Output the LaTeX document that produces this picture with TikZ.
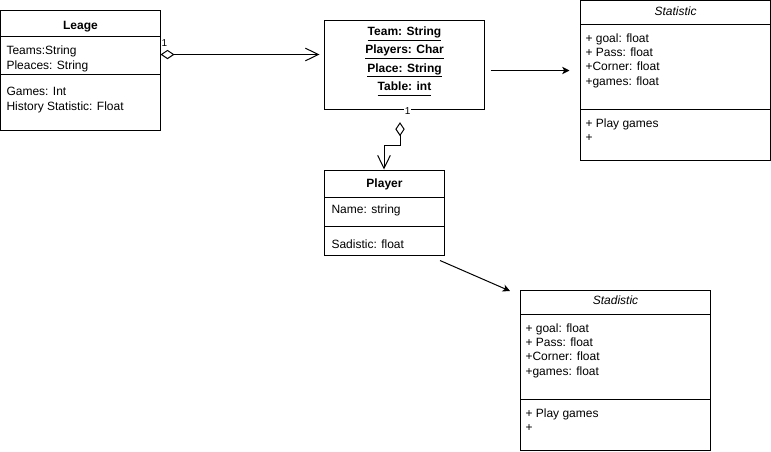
\documentclass[tikz,border=0pt]{standalone}
\usepackage{fontspec}
\setmainfont{Liberation Sans}
\usetikzlibrary{arrows.meta,fit}

\newcommand\umlfont{\fontsize{9}{10.8}\selectfont}
\newcommand\ulattr[1]{\underline{#1\vphantom{g}}}

\begin{document}
\begin{tikzpicture}[x=0.75pt, y=-0.75pt, line width=0.75pt, font=\umlfont,
  classbox/.style={draw, rectangle, inner sep=0pt, outer sep=0pt},
  title/.style={anchor=base, inner sep=0pt},
  members/.style={anchor=north west, align=left, inner sep=0pt},
  mult/.style={fill=white, inner sep=0.6pt, font=\fontsize{7.5}{9}\selectfont},
  aggr/.style={{Diamond[open,length=10.5pt,width=7pt]}-{Straight Barb[length=9.75pt,width=9.5pt]}},
  assoc/.style={-{Stealth[length=5.5pt,width=5.5pt,inset=1.5pt]}}]

\useasboundingbox (0,0) rectangle (771,451);

\node[classbox, fit={(0.5,10.5) (160.5,130.5)}] (leage) {};
\draw (leage.west |- 0,36.5) -- (leage.east |- 0,36.5);
\draw (leage.west |- 0,74) -- (leage.east |- 0,74);
\node[title, font=\umlfont\bfseries] (leagetitle) at (80.5,29.3) {Leage};
\node[members] (leageattr) at (6,45.6) {Teams:String\\Pleaces: String};
\node[members] (leageops) at (6,87) {Games: Int\\History Statistic: Float};

\node[classbox, fit={(324.5,20.5) (484.5,109.5)}] (team) {};
\node[anchor=north, align=center, inner sep=0pt, font=\fontsize{9}{13.8}\selectfont\bfseries] (teamattr) at (404.5,26.2)
  {\ulattr{Team: String}\\\ulattr{Players: Char}\\\ulattr{Place: String}\\\ulattr{Table: int}};

\node[classbox, fit={(580.5,0.5) (770.5,160.5)}] (statistic) {};
\draw (statistic.west |- 0,24.5) -- (statistic.east |- 0,24.5);
\draw (statistic.west |- 0,109) -- (statistic.east |- 0,109);
\node[title, font=\umlfont\itshape] (statistictitle) at (675.5,15.2) {Statistic};
\node[members] (statisticattr) at (585,32.8) {+ goal: float\\+ Pass: float\\+Corner: float\\+games: float};
\node[members] (statisticops) at (585,117.8) {+ Play games\\+};

\node[classbox, fit={(324.5,170.5) (444.5,255.5)}] (player) {};
\draw (player.west |- 0,197.5) -- (player.east |- 0,197.5);
\draw (player.west |- 0,226.5) -- (player.east |- 0,226.5);
\node[title, font=\umlfont\bfseries] (playertitle) at (384.5,187.3) {Player};
\node[members] (playerattr) at (331,204.6) {Name: string};
\node[members] (playerops) at (331,239.3) {Sadistic: float};

\node[classbox, fit={(520.5,290.5) (710.5,450.5)}] (stadistic) {};
\draw (stadistic.west |- 0,314.5) -- (stadistic.east |- 0,314.5);
\draw (stadistic.west |- 0,399.5) -- (stadistic.east |- 0,399.5);
\node[title, font=\umlfont\itshape] (stadistictitle) at (615.5,304.5) {Stadistic};
\node[members] (stadisticattr) at (525,322.8) {+ goal: float\\+ Pass: float\\+Corner: float\\+games: float};
\node[members] (stadisticops) at (525,408.2) {+ Play games\\+};

\path (leage.east |- 0,54.5) edge[aggr, shorten >=3.75pt] (team.west |- 0,54.5)
  (team.east |- 0,70.5) edge[assoc, shorten <=4.6pt, shorten >=8.25pt] (statistic.west |- 0,70.5)
  ([shift={(-4.5,5)}]player.south east) edge[assoc] ([shift={(-10.5,0.5)}]stadistic.north west);

\draw[aggr, shorten <=9.5pt, shorten >=0.75pt] (team.south -| 400,0) -- (400,145) -| (player.north -| 384,0);

\node[mult] (leagemult) at (164.5,43) {1};
\node[mult] (teammult) at (407.7,111.3) {1};

\end{tikzpicture}
\end{document}
